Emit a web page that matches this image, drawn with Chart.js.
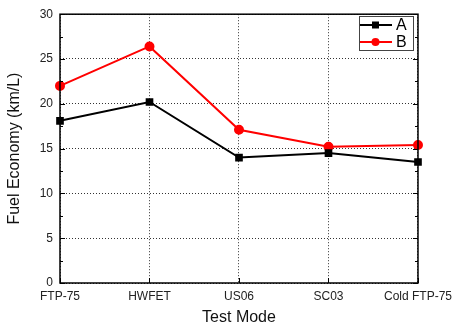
<!DOCTYPE html>
<html>
<head>
<meta charset="utf-8">
<script src="https://cdn.jsdelivr.net/npm/chart.js@4"></script>
<style>
  html, body { margin: 0; padding: 0; background: #fff; }
  #wrap { width: 458px; height: 328px; }
</style>
</head>
<body>
<div id="wrap"><canvas id="chartLine"></canvas></div>
<script>
const modes = ["FTP-75", "HWFET", "US06", "SC03", "Cold FTP-75"];
const seriesA = [18.1, 20.2, 14.0, 14.5, 13.5];
const seriesB = [22.0, 26.4, 17.1, 15.2, 15.4];
const yTicks = [0, 5, 10, 15, 20, 25, 30];
const yMinor = [2.5, 7.5, 12.5, 17.5, 22.5, 27.5];

// frame, inward ticks and the boxed legend
const framePlugin = {
  id: "frame",
  afterDraw(chart) {
    const ctx = chart.ctx;
    const a = chart.chartArea;
    const xs = chart.scales.x, ys = chart.scales.y;
    ctx.save();
    ctx.strokeStyle = "#000";
    ctx.lineWidth = 1;
    ctx.beginPath();
    yTicks.forEach(v => {
      const y = Math.round(ys.getPixelForValue(v)) + 0.5;
      ctx.moveTo(a.left, y); ctx.lineTo(a.left + 5, y);
      ctx.moveTo(a.right, y); ctx.lineTo(a.right - 5, y);
    });
    yMinor.forEach(v => {
      const y = Math.round(ys.getPixelForValue(v)) + 0.5;
      ctx.moveTo(a.left, y); ctx.lineTo(a.left + 3, y);
      ctx.moveTo(a.right, y); ctx.lineTo(a.right - 3, y);
    });
    modes.forEach((m, i) => {
      const x = Math.round(xs.getPixelForValue(i)) + 0.5;
      ctx.moveTo(x, a.bottom); ctx.lineTo(x, a.bottom - 5);
    });
    ctx.stroke();
    ctx.lineWidth = 1.5;
    ctx.strokeRect(a.left, a.top, a.right - a.left, a.bottom - a.top);

    // legend
    const lx = 359, ly = 16, lw = 54, lh = 34;
    ctx.fillStyle = "#fff";
    ctx.fillRect(lx, ly, lw, lh);
    ctx.lineWidth = 1;
    ctx.strokeStyle = "#444";
    ctx.strokeRect(lx + 0.5, ly + 0.5, lw, lh);
    chart.data.datasets.forEach((ds, i) => {
      const y = ly + 9 + i * 17;
      ctx.strokeStyle = ds.borderColor;
      ctx.lineWidth = 2;
      ctx.beginPath();
      ctx.moveTo(lx + 1, y); ctx.lineTo(lx + 33, y);
      ctx.stroke();
      ctx.fillStyle = ds.borderColor;
      if (ds.pointStyle === "rect") {
        ctx.fillRect(lx + 13, y - 3.5, 7, 7);
      } else {
        ctx.beginPath();
        ctx.arc(lx + 16.5, y, 4, 0, Math.PI * 2);
        ctx.fill();
      }
      ctx.fillStyle = "#000";
      ctx.font = "16px 'Liberation Sans', Arial, sans-serif";
      ctx.textBaseline = "middle";
      ctx.fillText(ds.label, lx + 37, y + 1);
    });
    ctx.restore();
  }
};

const chartLine = new Chart("chartLine", {
  type: "line",
  data: {
    labels: modes,
    datasets: [
      {
        label: "A",
        data: seriesA,
        borderColor: "#000",
        backgroundColor: "#000",
        borderWidth: 2,
        pointStyle: "rect",
        pointRadius: 4,
        pointHoverRadius: 4,
      },
      {
        label: "B",
        data: seriesB,
        borderColor: "#ff0000",
        backgroundColor: "#ff0000",
        borderWidth: 2,
        pointStyle: "circle",
        pointRadius: 4,
        pointHoverRadius: 4,
      },
    ],
  },
  options: {
    responsive: true,
    maintainAspectRatio: false,
    animation: false,
    layout: { padding: { top: 11, right: 38, bottom: 0, left: 0 } },
    plugins: {
      legend: { display: false },
      tooltip: { enabled: false },
    },
    scales: {
      x: {
        offset: false,
        grid: {
          color: "#333",
          borderDash: [1, 2],
          drawTicks: false,
        },
        border: { display: false, dash: [1, 2] },
        ticks: {
          color: "#222",
          padding: 6,
          maxRotation: 0,
          autoSkip: false,
          font: { family: "'Liberation Sans', Arial, sans-serif", size: 12 },
        },
        title: {
          display: true,
          text: "Test Mode",
          color: "#111",
          padding: { top: 0, bottom: 1 },
          font: { family: "'Liberation Sans', Arial, sans-serif", size: 16 },
        },
        afterFit(scale) { scale.height = 45; },
      },
      y: {
        min: 0,
        max: 30,
        grid: {
          color: "#333",
          drawTicks: false,
        },
        border: { display: false, dash: [1, 2] },
        ticks: {
          stepSize: 5,
          color: "#222",
          padding: 7,
          font: { family: "'Liberation Sans', Arial, sans-serif", size: 12 },
        },
        title: {
          display: true,
          text: "Fuel Economy (km/L)",
          color: "#111",
          padding: { top: 5, bottom: 0 },
          font: { family: "'Liberation Sans', Arial, sans-serif", size: 16 },
        },
        afterFit(scale) { scale.width = 60; },
      },
    },
  },
  plugins: [framePlugin],
});
</script>
</body>
</html>
